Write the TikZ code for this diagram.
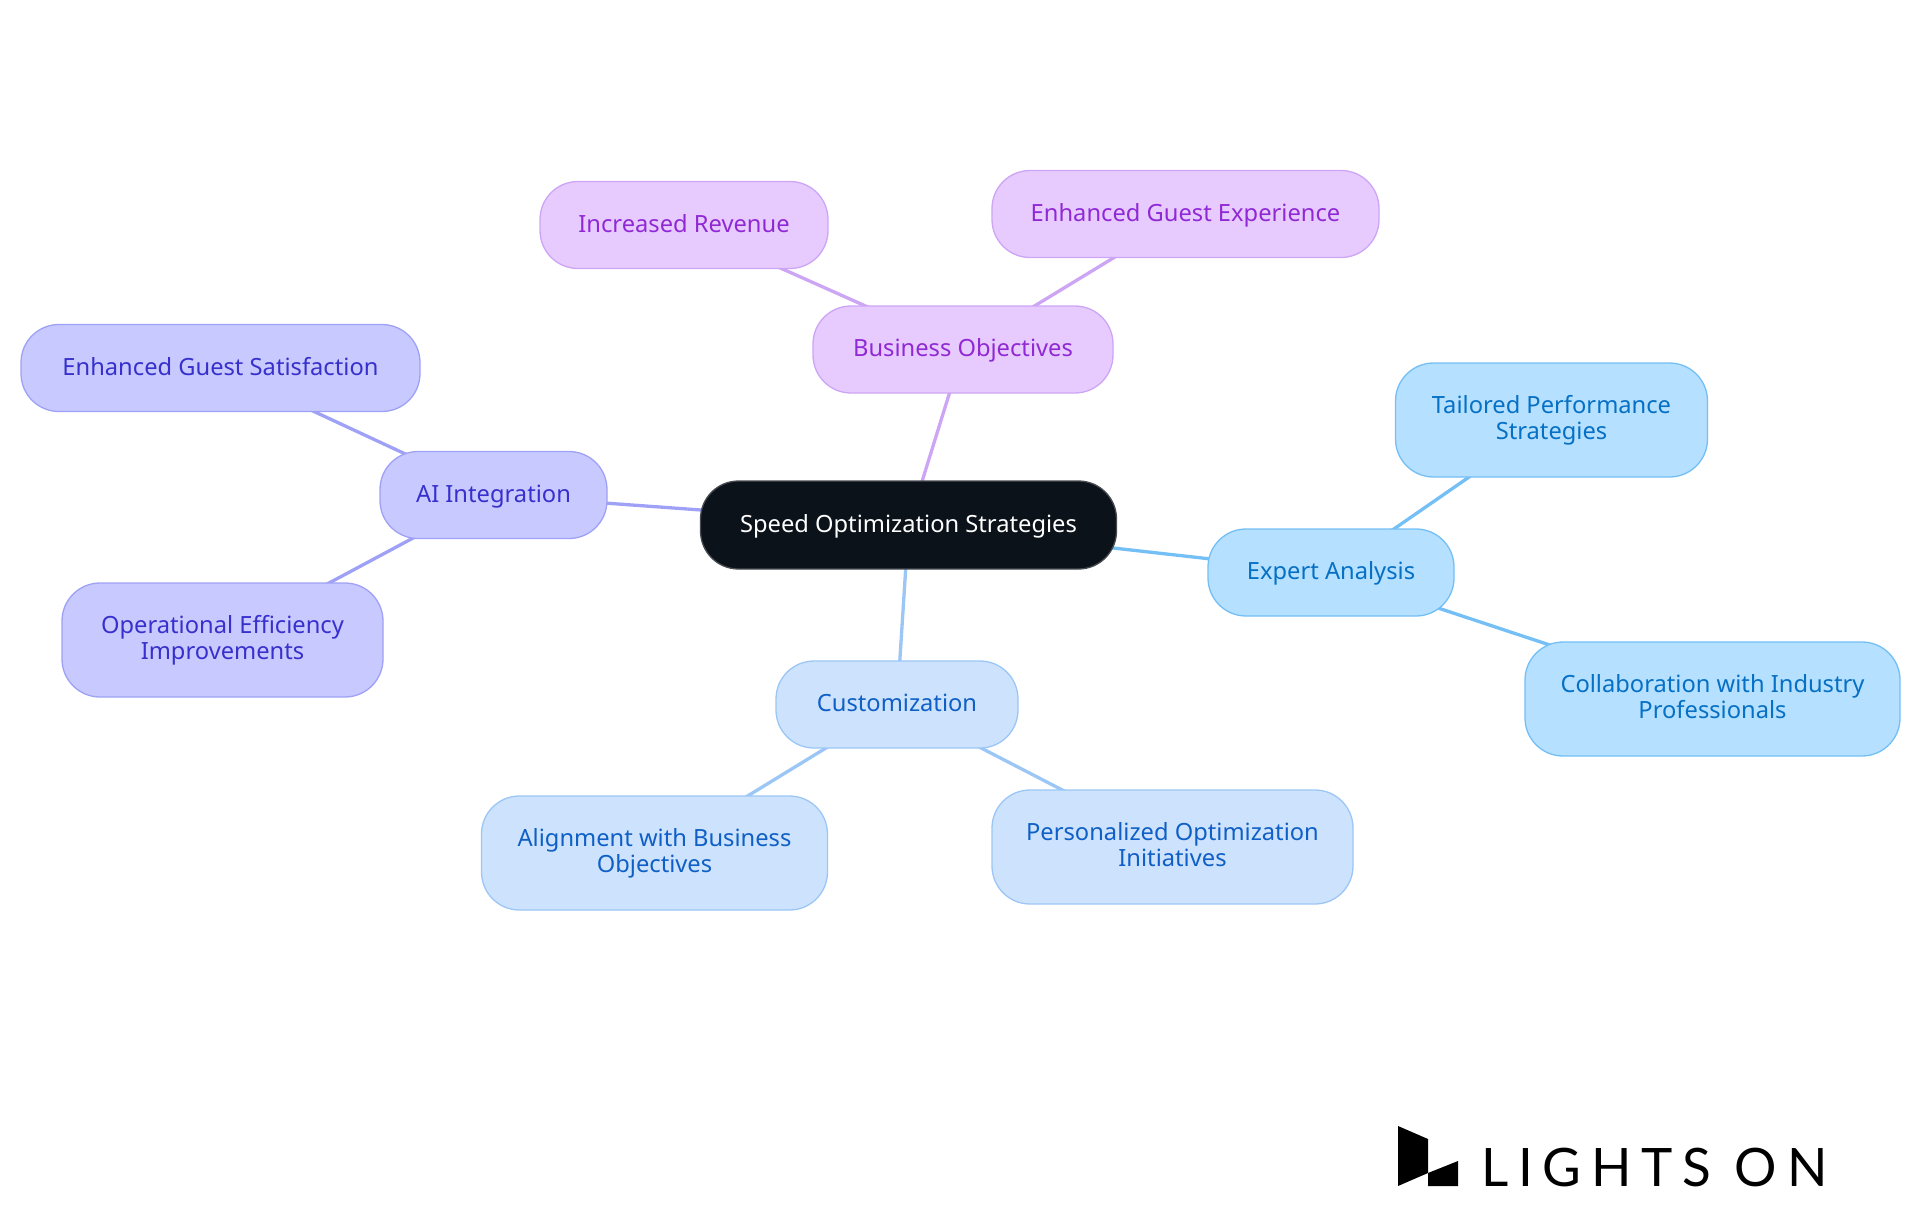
\documentclass[tikz,border=0pt]{standalone}
\usepackage{fontspec}
\setmainfont{Noto Sans}
\newfontfamily\logofont[LetterSpace=18.5]{Lato}
\usetikzlibrary{backgrounds}
\definecolor{bizfill}{HTML}{E7CBFF}\definecolor{bizline}{HTML}{CDA5F5}\definecolor{biztext}{HTML}{9029D4}
\definecolor{aifill}{HTML}{C8CAFF}\definecolor{ailine}{HTML}{9EA1F5}\definecolor{aitext}{HTML}{3730CC}
\definecolor{cusfill}{HTML}{CDE3FD}\definecolor{cusline}{HTML}{9CC6F5}\definecolor{custext}{HTML}{0F5FC6}
\definecolor{expfill}{HTML}{B5E0FF}\definecolor{expline}{HTML}{74BFF5}\definecolor{exptext}{HTML}{0670C4}
\definecolor{rootfill}{HTML}{0C121A}\definecolor{rootline}{HTML}{484C52}
\newcommand\mapstrut{\rule[-5.6pt]{0pt}{26pt}}
\tikzset{
  x=1pt,y=-1pt,
  mapbox/.style n args={2}{rectangle,rounded corners=38pt,line width=1.3pt,inner sep=0pt,align=center,
    minimum width=#1pt,minimum height=#2pt,font=\fontsize{23.7}{26.3}\selectfont,
    execute at begin node=\mapstrut,execute at end node=\mapstrut},
  rootbox/.style={fill=rootfill,draw=rootline,text=white},
  bizbox/.style={fill=bizfill,draw=bizline,text=biztext},
  aibox/.style={fill=aifill,draw=ailine,text=aitext},
  cusbox/.style={fill=cusfill,draw=cusline,text=custext},
  expbox/.style={fill=expfill,draw=expline,text=exptext},
  link/.style={line width=3.3pt}
}
\begin{document}
\begin{tikzpicture}
\useasboundingbox (0,0) rectangle (1920,1215);
\node[mapbox={416}{88},rootbox] (root) at (908.5,525) {Speed Optimization Strategies};
\node[mapbox={300}{87},bizbox] (biz) at (963,349.5) {Business Objectives};
\node[mapbox={288}{87},bizbox] (rev) at (684,225) {Increased Revenue};
\node[mapbox={387}{87},bizbox] (exp) at (1185.5,214) {Enhanced Guest Experience};
\node[mapbox={227}{87},aibox] (ai) at (493.5,495) {AI Integration};
\node[mapbox={399}{87},aibox] (sat) at (220.5,368) {Enhanced Guest Satisfaction};
\node[mapbox={321}{114},aibox] (eff) at (222.5,640) {Operational Efficiency\\Improvements};
\node[mapbox={242}{87},cusbox] (cus) at (897,704.5) {Customization};
\node[mapbox={346}{114},cusbox] (abo) at (654.5,853) {Alignment with Business\\Objectives};
\node[mapbox={361}{114},cusbox] (poi) at (1172.5,847) {Personalized Optimization\\Initiatives};
\node[mapbox={246}{87},expbox] (ana) at (1331,572.5) {Expert Analysis};
\node[mapbox={312}{114},expbox] (tps) at (1551.5,420) {Tailored Performance\\Strategies};
\node[mapbox={375}{114},expbox] (cip) at (1712.5,699) {Collaboration with Industry\\Professionals};
\begin{pgfonlayer}{background}
\draw[link,bizline] (root.center) -- (biz.center);
\draw[link,bizline] (biz.center) -- (rev.center);
\draw[link,bizline] (biz.center) -- (exp.center);
\draw[link,ailine] (root.center) -- (ai.center);
\draw[link,ailine] (ai.center) -- (sat.center);
\draw[link,ailine] (ai.center) -- (eff.center);
\draw[link,cusline] (root.center) -- (cus.center);
\draw[link,cusline] (cus.center) -- (abo.center);
\draw[link,cusline] (cus.center) -- (poi.center);
\draw[link,expline] (root.center) -- (ana.center);
\draw[link,expline] (ana.center) -- (tps.center);
\draw[link,expline] (ana.center) -- (cip.center);
\end{pgfonlayer}
\fill[black] (1398,1126) -- (1428,1139) -- (1428,1173) -- (1398,1186) -- cycle;
\fill[black] (1428,1173) -- (1458,1161) -- (1458,1186) -- (1428,1186) -- cycle;
\node[anchor=base west,inner sep=0pt,text=black,font=\logofont\fontsize{53}{53}\selectfont] (logo) at (1481,1186) {LIGHTS ON};
\end{tikzpicture}
\end{document}
